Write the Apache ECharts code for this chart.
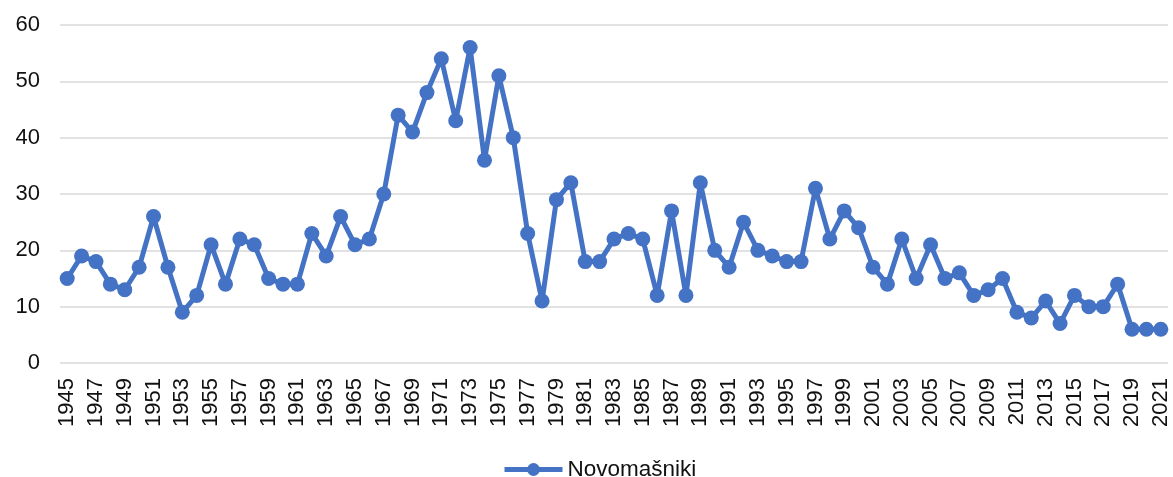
<!DOCTYPE html>
<html>
<head>
<meta charset="utf-8">
<script src="https://cdn.jsdelivr.net/npm/echarts@6/dist/echarts.min.js"></script>
<style>
  html, body { margin: 0; padding: 0; background: #fff; }
  #chart { width: 1173px; height: 477px; }
</style>
</head>
<body>
<div id="chart"></div>
<script>
var years = [];
for (var y = 1945; y <= 2021; y++) years.push(String(y));

var novomasniki = [
  15, 19, 18, 14, 13, 17, 26, 17, 9, 12,
  21, 14, 22, 21, 15, 14, 14, 23, 19, 26,
  21, 22, 30, 44, 41, 48, 54, 43, 56, 36,
  51, 40, 23, 11, 29, 32, 18, 18, 22, 23,
  22, 12, 27, 12, 32, 20, 17, 25, 20, 19,
  18, 18, 31, 22, 27, 24, 17, 14, 22, 15,
  21, 15, 16, 12, 13, 15, 9, 8, 11, 7,
  12, 10, 10, 14, 6, 6, 6
];

var chart = echarts.init(document.getElementById("chart"));
var option = {
  animation: false,
  grid: { left: 60, right: 5, top: 25, bottom: 114 },
  legend: {
    top: 453,
    left: 497,
    itemWidth: 58,
    itemHeight: 16,
    itemGap: 4,
    lineStyle: { width: 5 },
    textStyle: { fontFamily: "Liberation Sans", fontSize: 22.5, color: "#111" },
    data: ["Novomašniki"]
  },
  xAxis: {
    type: "category",
    data: years,
    boundaryGap: true,
    axisLine: { show: false },
    axisTick: { show: false },
    axisLabel: {
      rotate: 90,
      interval: 1,
      margin: 15,
      fontFamily: "Liberation Sans",
      fontSize: 22,
      color: "#111"
    }
  },
  yAxis: {
    type: "value",
    min: 0,
    max: 60,
    interval: 10,
    axisLine: { show: false },
    axisTick: { show: false },
    axisLabel: {
      margin: 20,
      fontFamily: "Liberation Sans",
      fontSize: 22,
      color: "#111"
    },
    splitLine: { lineStyle: { color: "#d9d9d9", width: 1.5 } }
  },
  series: [{
    name: "Novomašniki",
    type: "line",
    data: novomasniki,
    symbol: "circle",
    symbolSize: 15,
    showAllSymbol: true,
    itemStyle: { color: "#4472C4" },
    lineStyle: { color: "#4472C4", width: 5 }
  }]
};
chart.setOption(option);
</script>
</body>
</html>
